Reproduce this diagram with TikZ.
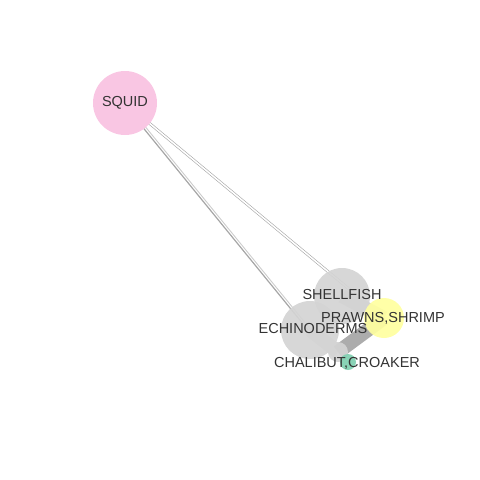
\documentclass[tikz,border=0pt]{standalone}
\usepackage{fontspec}
\setmainfont{Liberation Sans}
\usetikzlibrary{positioning}
\definecolor{squidpink}{HTML}{F9C6E3}
\definecolor{shellgray}{HTML}{D4D4D4}
\definecolor{prawnyellow}{HTML}{FFFFA0}
\definecolor{croakgreen}{HTML}{7FCFB0}
\definecolor{labelgray}{HTML}{333333}
\tikzset{
    taxon/.style={circle, draw=none, fill opacity=0.92, inner sep=0pt},
    taxlabel/.style={text=labelgray, font=\fontsize{14.5}{14.5}\selectfont, inner sep=0pt},
    link/.style={draw=gray!70, line width=0.6pt},
    thicklink/.style={draw=gray!65, line width=14pt}
}

\begin{document}
\begin{tikzpicture}[x=1pt,y=-1pt]
    \useasboundingbox (0,0) rectangle (480,480);

    % node centres
    \coordinate (squid) at (125,103);
    \coordinate (shell) at (342,296);
    \coordinate (echino) at (310,330);
    \coordinate (prawn) at (384,318);
    \coordinate (croak) at (348,362);
    \coordinate (small) at (338,352);

    % links
    \draw[link, line width=1.2pt] ([xshift=-2pt]squid) -- ([xshift=-2pt]echino);
    \draw[link, draw=gray!40, line width=0.9pt] ([xshift=1pt]squid) -- ([xshift=1pt]echino);
    \draw[link, line width=0.45pt] ([yshift=-1.5pt]squid) -- ([yshift=-1.5pt]prawn);
    \draw[link, line width=0.45pt] ([yshift=1.5pt]squid) -- ([yshift=1.5pt]prawn);
    \draw[thicklink, draw=gray!30] (echino) -- (small);
    \draw[thicklink, draw=gray!35] (shell) -- (prawn);
    \draw[thicklink] (small) -- (prawn);

    % nodes
    \node[taxon, fill=squidpink, fill opacity=1, minimum size=64pt] (SQ) at (squid) {};
    \node[taxon, fill=shellgray, minimum size=56pt] (SH) at (shell) {};
    \node[taxon, fill=prawnyellow, minimum size=40pt] (PR) at (prawn) {};
    \node[taxon, fill=shellgray, minimum size=20pt] (SM) at (small) {};
    \node[taxon, fill=shellgray, minimum size=58pt] (EC) at (echino) {};
    \node[taxon, fill=croakgreen, minimum size=16pt] (CR) at (croak) {};

    % labels
    \node[taxlabel] at (SQ) {SQUID};
    \node[taxlabel] at ([yshift=1pt]SH) {SHELLFISH};
    \node[taxlabel] at ([xshift=-1pt]PR) {PRAWNS,SHRIMP};
    \node[taxlabel] at ([xshift=3pt,yshift=1pt]EC) {ECHINODERMS};
    \node[taxlabel] at ([xshift=-1pt,yshift=-1pt]CR) {CHALIBUT,CROAKER};
\end{tikzpicture}
\end{document}
